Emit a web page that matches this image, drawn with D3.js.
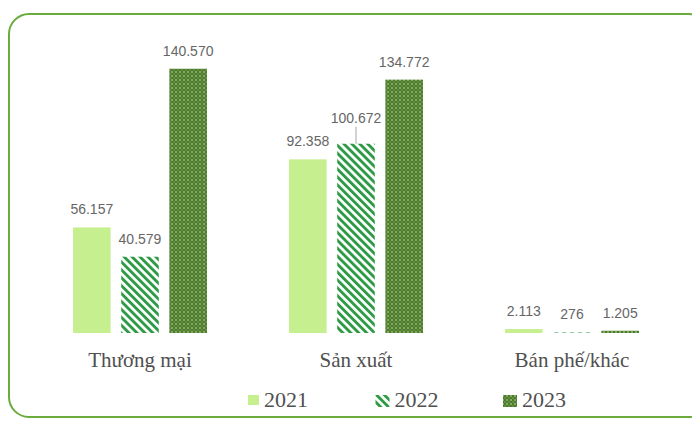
<!DOCTYPE html>
<html>
<head>
<meta charset="utf-8">
<style>
    body { margin: 0; background: #fff; }
    svg { display: block; }
    .val { font-family: "Liberation Sans", Arial, sans-serif; font-size: 14px; fill: #666; text-anchor: middle; }
    .cat { font-family: "Liberation Serif", "Times New Roman", serif; font-size: 21px; fill: #505050; text-anchor: middle; }
    .leg { font-family: "Liberation Serif", "Times New Roman", serif; font-size: 22px; fill: #505050; }
</style>
</head>
<body>
<svg width="692" height="422"></svg>
<script src="https://cdn.jsdelivr.net/npm/d3@7"></script>
<script>
    // data
    let categories = ["Thương mại", "Sản xuất", "Bán phế/khác"]
    let years = ["2021", "2022", "2023"]
    let v2021 = [56.157, 92.358, 2.113]
    let v2022 = [40.579, 100.672, 0.276]
    let v2023 = [140.570, 134.772, 1.205]
    let labels2021 = ["56.157", "92.358", "2.113"]
    let labels2022 = ["40.579", "100.672", "276"]
    let labels2023 = ["140.570", "134.772", "1.205"]

    let series = [v2021, v2022, v2023]
    let seriesLabels = [labels2021, labels2022, labels2023]

    let svg = d3.select("svg")
    let defs = svg.append("defs")

    // 2022: diagonal stripes
    let p2 = defs.append("pattern")
        .attr("id", "stripes")
        .attr("patternUnits", "userSpaceOnUse")
        .attr("width", 5.6).attr("height", 5.6)
        .attr("patternTransform", "rotate(-45)")
    p2.append("rect").attr("width", 5.6).attr("height", 5.6).attr("fill", "#fff")
    p2.append("rect").attr("width", 2.9).attr("height", 5.6).attr("fill", "#2f9a45")

    // 2023: dark green lattice
    let p3 = defs.append("pattern")
        .attr("id", "lattice")
        .attr("patternUnits", "userSpaceOnUse")
        .attr("width", 4).attr("height", 4)
    p3.append("rect").attr("width", 4).attr("height", 4).attr("fill", "#4c7b2c")
    p3.append("circle").attr("cx", 0).attr("cy", 0).attr("r", 0.9).attr("fill", "#9dbf7c")
    p3.append("circle").attr("cx", 4).attr("cy", 0).attr("r", 0.9).attr("fill", "#9dbf7c")
    p3.append("circle").attr("cx", 0).attr("cy", 4).attr("r", 0.9).attr("fill", "#9dbf7c")
    p3.append("circle").attr("cx", 4).attr("cy", 4).attr("r", 0.9).attr("fill", "#9dbf7c")
    p3.append("circle").attr("cx", 2).attr("cy", 2).attr("r", 0.8).attr("fill", "#7ea55c")

    let fills = ["#c6f08f", "url(#stripes)", "url(#lattice)"]

    // frame
    svg.append("rect")
        .attr("x", 9).attr("y", 14)
        .attr("width", 700).attr("height", 403)
        .attr("rx", 20)
        .attr("fill", "none")
        .attr("stroke", "#6aab3e")
        .attr("stroke-width", 2)

    let x0 = d3.scaleBand()
        .domain(categories)
        .range([32, 680])
        .paddingInner(0.38)
        .paddingOuter(0.19)

    let x1 = d3.scaleBand()
        .domain(years)
        .range([0, x0.bandwidth()])
        .paddingInner(0.22)

    let y = d3.scaleLinear()
        .domain([0, 150])
        .range([333, 51])

    let rows = []
    categories.forEach(function (c, i) {
        years.forEach(function (yr, j) {
            rows.push({ cat: c, year: yr, s: j, value: series[j][i], label: seriesLabels[j][i] })
        })
    })

    svg.append("g")
        .selectAll("rect")
        .data(rows)
        .join("rect")
        .attr("x", d => x0(d.cat) + x1(d.year))
        .attr("y", d => y(d.value))
        .attr("width", x1.bandwidth())
        .attr("height", d => y(0) - y(d.value))
        .attr("fill", d => fills[d.s])

    // value labels; the 2022 Sản xuất label sits higher with a leader line
    let lifted = d => d.cat == "Sản xuất" && d.year == "2022"

    svg.append("g")
        .selectAll("text")
        .data(rows)
        .join("text")
        .attr("class", "val")
        .attr("x", d => x0(d.cat) + x1(d.year) + x1.bandwidth() / 2)
        .attr("y", d => y(d.value) - (lifted(d) ? 21 : 13))
        .text(d => d.label)

    svg.append("g")
        .selectAll("line")
        .data(rows.filter(lifted))
        .join("line")
        .attr("x1", d => x0(d.cat) + x1(d.year) + x1.bandwidth() / 2)
        .attr("x2", d => x0(d.cat) + x1(d.year) + x1.bandwidth() / 2)
        .attr("y1", d => y(d.value) - 17)
        .attr("y2", d => y(d.value))
        .attr("stroke", "#a6a6a6")
        .attr("stroke-width", 1)

    // category labels
    svg.append("g")
        .selectAll("text")
        .data(categories)
        .join("text")
        .attr("class", "cat")
        .attr("x", d => x0(d) + x0.bandwidth() / 2)
        .attr("y", 367)
        .text(d => d)

    // legend
    let lx = d3.scalePoint().domain(years).range([248, 503])

    let leg = svg.append("g")
        .selectAll("g")
        .data(years)
        .join("g")
        .attr("transform", d => `translate(${lx(d)},0)`)

    leg.append("rect")
        .attr("x", 0).attr("y", 395)
        .attr("width", (d, i) => i == 0 ? 11 : 14)
        .attr("height", (d, i) => i == 0 ? 10 : 12)
        .attr("fill", (d, i) => fills[i])

    leg.append("text")
        .attr("class", "leg")
        .attr("x", (d, i) => i == 0 ? 16 : 19)
        .attr("y", 407)
        .text(d => d)
</script>
</body>
</html>
